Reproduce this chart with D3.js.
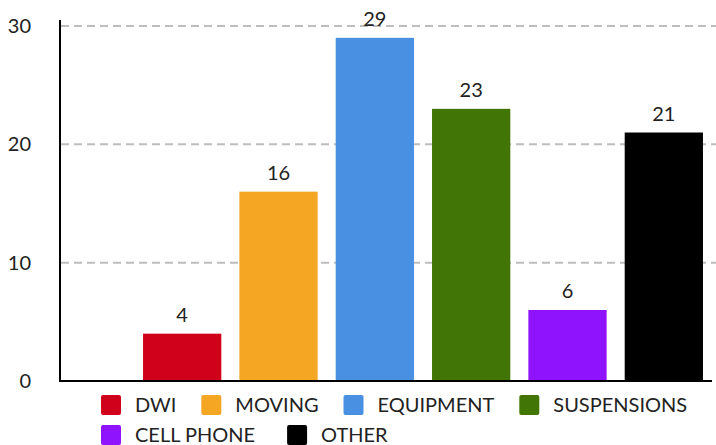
<!DOCTYPE html>
<html>
<head>
<meta charset="utf-8">
<script src="https://cdn.jsdelivr.net/npm/d3@7"></script>
<style>
  body { margin: 0; background: #fff; }
  text { font-family: Lato, "Open Sans", sans-serif; fill: #222; }
</style>
</head>
<body>
<svg width="716" height="445"></svg>
<script>
const categories = ["DWI", "MOVING", "EQUIPMENT", "SUSPENSIONS", "CELL PHONE", "OTHER"];
const counts = [4, 16, 29, 23, 6, 21];
const colors = ["#d0021b", "#f5a623", "#4a90e2", "#417505", "#9013fe", "#000000"];
const yTicks = [0, 10, 20, 30];

const svg = d3.select("svg");

// scales
const xScale = d3.scaleBand().domain(categories).range([134, 712]).paddingInner(0.1875).paddingOuter(0.09375);
const yScale = d3.scaleLinear().domain([0, 30]).range([381, 26]);

// dashed grid
svg.append("g").selectAll("line").data(yTicks.filter(d => d > 0)).enter().append("line")
    .attr("x1", 61).attr("x2", 716)
    .attr("y1", d => yScale(d)).attr("y2", d => yScale(d))
    .attr("stroke", "#bdbdbd").attr("stroke-width", 2).attr("stroke-dasharray", "8,5");

// y axis labels
const yAxis = svg.append("g").attr("transform", "translate(60,0)")
    .call(d3.axisLeft(yScale).tickValues(yTicks).tickSize(0).tickPadding(29));
yAxis.select(".domain").remove();
yAxis.selectAll("text").style("font-family", "Lato, sans-serif").style("font-size", "20px").attr("fill", "#222");

// bars
svg.append("g").selectAll("rect").data(counts).enter().append("rect")
    .attr("x", (d, i) => xScale(categories[i]))
    .attr("y", d => yScale(d))
    .attr("width", xScale.bandwidth())
    .attr("height", d => yScale(0) - yScale(d))
    .attr("fill", (d, i) => colors[i]);

// value labels
svg.append("g").selectAll("text").data(counts).enter().append("text")
    .attr("x", (d, i) => xScale(categories[i]) + xScale.bandwidth() / 2)
    .attr("y", d => yScale(d) - 12)
    .attr("text-anchor", "middle").style("font-size", "20px")
    .text(d => d);

// axis lines
svg.append("line").attr("x1", 60).attr("x2", 60).attr("y1", 20).attr("y2", 382)
    .attr("stroke", "#000").attr("stroke-width", 2);
svg.append("line").attr("x1", 59).attr("x2", 712).attr("y1", 381).attr("y2", 381)
    .attr("stroke", "#000").attr("stroke-width", 2);

// legend (two rows, left aligned)
const legend = svg.append("g");
let lx = 101, ly = 395, gap = 25;
categories.forEach((c, i) => {
    if (i === 4) { lx = 101; ly = 425; gap = 32; }
    legend.append("rect").attr("x", lx).attr("y", ly).attr("width", 20).attr("height", 20)
        .attr("rx", 2).attr("fill", colors[i]);
    const t = legend.append("text").attr("x", lx + 34).attr("y", ly + 17)
        .style("font-size", "20px").text(c);
    lx += 34 + t.node().getComputedTextLength() + gap;
});
</script>
</body>
</html>
